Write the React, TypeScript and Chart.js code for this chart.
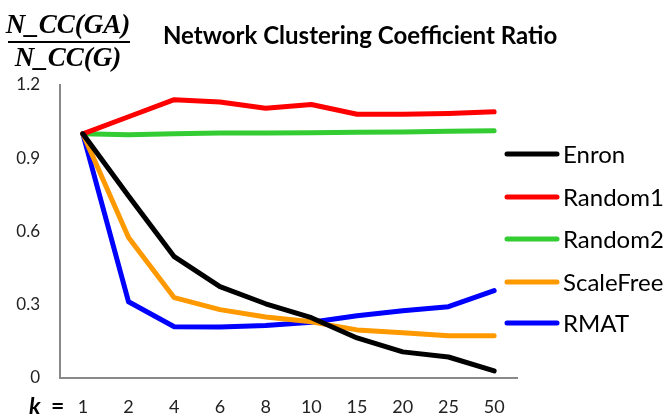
import React, { useEffect, useRef } from "react";
import { Chart, registerables } from "chart.js";

Chart.register(...registerables);

const kLabels = ["1", "2", "4", "6", "8", "10", "15", "20", "25", "50"];
const enron = [1.0, 0.745, 0.497, 0.374, 0.304, 0.247, 0.164, 0.107, 0.086, 0.029];
const random1 = [1.0, 1.07, 1.14, 1.13, 1.105, 1.12, 1.08, 1.08, 1.083, 1.09];
const random2 = [1.0, 0.996, 1.0, 1.003, 1.003, 1.004, 1.006, 1.008, 1.011, 1.013];
const scaleFree = [1.0, 0.575, 0.329, 0.28, 0.25, 0.23, 0.197, 0.185, 0.173, 0.173];
const rmat = [1.0, 0.312, 0.21, 0.209, 0.215, 0.228, 0.255, 0.275, 0.292, 0.358];
const seriesNames = ["Enron", "Random1", "Random2", "ScaleFree", "RMAT"];
const seriesColors = ["#000000", "#ff0000", "#33cc33", "#ff9900", "#0000ff"];
const yTicks = [0, 0.3, 0.6, 0.9, 1.2];

const SANS = "Lato, 'Open Sans', sans-serif";

const decorPlugin = {
  id: "decor",
  afterDraw(chart: any) {
    const ctx = chart.ctx as CanvasRenderingContext2D;
    ctx.save();
    // title
    ctx.fillStyle = "#000";
    ctx.font = `bold 24px ${SANS}`;
    ctx.textAlign = "left";
    ctx.textBaseline = "alphabetic";
    ctx.fillText("Network Clustering Coefficient Ratio", 163, 44);
    // fraction
    ctx.textAlign = "center";
    ctx.font = "italic bold 27px 'Liberation Serif', serif";
    ctx.fillText("N_CC(GA)", 68, 33);
    ctx.fillText("N_CC(G)", 68, 66);
    ctx.fillRect(8, 41, 122, 2);
    // k =
    ctx.textAlign = "left";
    ctx.textBaseline = "middle";
    ctx.font = `italic bold 23px ${SANS}`;
    ctx.fillText("k", 29, 407);
    ctx.font = `bold 23px ${SANS}`;
    ctx.fillText("=", 51, 407);
    // legend
    const ys = [154, 197, 239, 282, 323];
    ctx.lineCap = "round";
    ctx.lineWidth = 5;
    chart.data.datasets.forEach((ds: any, i: number) => {
      ctx.strokeStyle = ds.borderColor;
      ctx.beginPath();
      ctx.moveTo(507, ys[i]);
      ctx.lineTo(557, ys[i]);
      ctx.stroke();
      ctx.fillStyle = "#000";
      ctx.font = `24px ${SANS}`;
      ctx.textAlign = "left";
      ctx.fillText(ds.label, 563, ys[i] + 1);
    });
    ctx.restore();
  },
};

export default function App() {
  const ref = useRef<HTMLCanvasElement | null>(null);
  useEffect(() => {
    if (!ref.current) return;
    const chart = new Chart(ref.current, {
      type: "line",
      data: {
        labels: kLabels,
        datasets: [enron, random1, random2, scaleFree, rmat].map((d, i) => ({
          label: seriesNames[i],
          data: d,
          borderColor: seriesColors[i],
          backgroundColor: seriesColors[i],
          borderWidth: 5,
          pointRadius: 0,
          tension: 0,
          borderCapStyle: "round" as const,
          borderJoinStyle: "round" as const,
          fill: false,
        })),
      },
      options: {
        animation: false,
        responsive: false,
        devicePixelRatio: 1,
        layout: { padding: { top: 85, right: 151, left: 0, bottom: 0 } },
        plugins: { legend: { display: false }, title: { display: false }, tooltip: { enabled: false } },
        scales: {
          x: {
            type: "category",
            offset: true,
            grid: { display: false, drawTicks: false },
            border: { display: true, color: "#898989", width: 2 },
            ticks: { color: "#222", font: { family: SANS, size: 18 }, padding: 18, maxRotation: 0, autoSkip: false },
            afterFit: (s: any) => { s.height = 40; },
          },
          y: {
            min: 0,
            max: 1.2,
            afterBuildTicks: (s: any) => { s.ticks = yTicks.map((v) => ({ value: v })); },
            grid: { display: false, drawTicks: false },
            border: { display: true, color: "#898989", width: 2 },
            ticks: { color: "#222", font: { family: SANS, size: 17 }, padding: 20, callback: (v: any) => String(v) },
            afterFit: (s: any) => { s.width = 60; },
          },
        },
      },
      plugins: [decorPlugin],
    });
    return () => chart.destroy();
  }, []);
  return (
    <div style={{ position: "fixed", left: 0, top: 0, width: 668, height: 418, background: "#fff" }}>
      <canvas ref={ref} width={668} height={418} style={{ width: 668, height: 418 }} />
    </div>
  );
}
